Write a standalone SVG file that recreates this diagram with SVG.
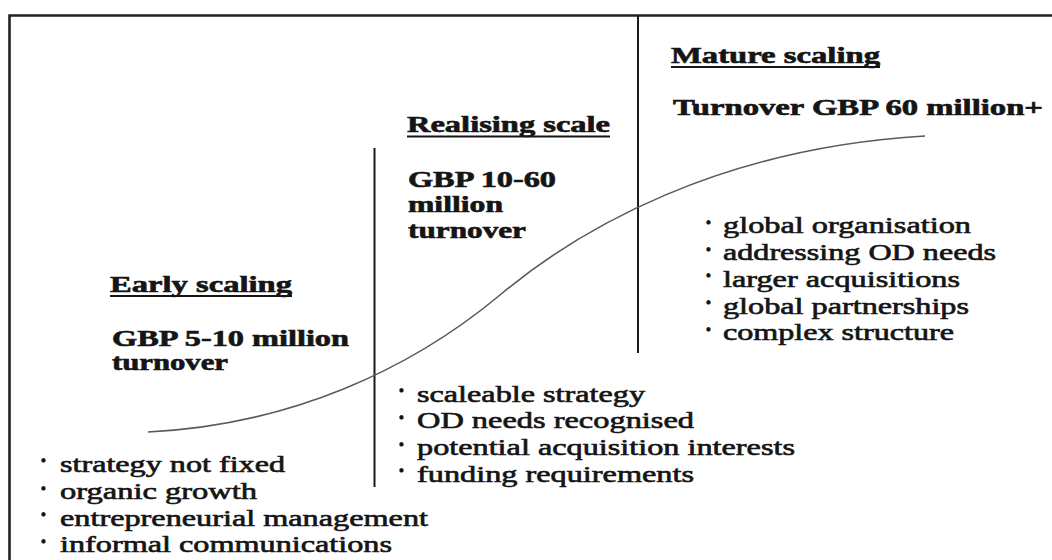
<svg xmlns="http://www.w3.org/2000/svg" width="1052" height="560" viewBox="0 0 1052 560">
  <style>
    .frame { fill: none; stroke: #222; stroke-width: 2.6; }
    .divider { stroke: #1a1a1a; stroke-width: 2; }
    .curve { fill: none; stroke: #5a5a5a; stroke-width: 1.6; }
    .head { font-family: "Liberation Serif", "Times New Roman", serif; font-weight: bold; font-size: 32.5px; fill: #151515; stroke: #151515; stroke-width: 0.9; }
    .item { font-family: "Liberation Serif", "Times New Roman", serif; font-size: 32.5px; fill: #151515; stroke: #151515; stroke-width: 0.9; }
    .bullet { font-family: "Liberation Serif", "Times New Roman", serif; font-size: 18px; fill: #151515; text-anchor: middle; }
    .uline { stroke: #151515; stroke-width: 2.2; }
  </style>

  <rect width="1052" height="560" fill="#ffffff"/>

  <!-- outer frame (open to the right and bottom) -->
  <path class="frame" d="M9.5,560 V15.5 H1052"/>

  <!-- stage dividers -->
  <g id="dividers">
    <line class="divider" x1="374.5" y1="148" x2="374.5" y2="487"/>
    <line class="divider" x1="638" y1="15" x2="638" y2="353"/>
  </g>

  <!-- growth S-curve -->
  <g id="connectors">
    <path class="curve" d="M148,432 C290,425 410,370 500,295 C580,228 720,148 925,136"/>
  </g>

  <!-- text is set in a wide face: glyphs are squeezed vertically to 68% -->

  <!-- early scaling stage -->
  <g id="stage-early">
    <text class="head" transform="translate(110,292) scale(1,0.68)" textLength="182" lengthAdjust="spacingAndGlyphs">Early scaling</text>
    <line class="uline" x1="110" y1="296" x2="292" y2="296"/>
    <text class="head" transform="translate(112,346) scale(1,0.68)" textLength="237" lengthAdjust="spacingAndGlyphs">GBP 5-10 million</text>
    <text class="head" transform="translate(112,370) scale(1,0.68)" textLength="116" lengthAdjust="spacingAndGlyphs">turnover</text>

    <text class="bullet" x="43.5" y="467">•</text>
    <text class="item" transform="translate(60,471.5) scale(1,0.68)" textLength="225" lengthAdjust="spacingAndGlyphs">strategy not fixed</text>
    <text class="bullet" x="43.5" y="494.5">•</text>
    <text class="item" transform="translate(60,499) scale(1,0.68)" textLength="197" lengthAdjust="spacingAndGlyphs">organic growth</text>
    <text class="bullet" x="43.5" y="521">•</text>
    <text class="item" transform="translate(60,525.5) scale(1,0.68)" textLength="368" lengthAdjust="spacingAndGlyphs">entrepreneurial management</text>
    <text class="bullet" x="43.5" y="547.5">•</text>
    <text class="item" transform="translate(60,552) scale(1,0.68)" textLength="332" lengthAdjust="spacingAndGlyphs">informal communications</text>
  </g>

  <!-- realising scale stage -->
  <g id="stage-realising">
    <text class="head" transform="translate(407,132) scale(1,0.68)" textLength="203" lengthAdjust="spacingAndGlyphs">Realising scale</text>
    <line class="uline" x1="407" y1="136.5" x2="610" y2="136.5"/>
    <text class="head" transform="translate(408,186.5) scale(1,0.68)" textLength="148" lengthAdjust="spacingAndGlyphs">GBP 10-60</text>
    <text class="head" transform="translate(408,212) scale(1,0.68)" textLength="95" lengthAdjust="spacingAndGlyphs">million</text>
    <text class="head" transform="translate(408,238) scale(1,0.68)" textLength="118" lengthAdjust="spacingAndGlyphs">turnover</text>

    <text class="bullet" x="401.5" y="397">•</text>
    <text class="item" transform="translate(417,401.5) scale(1,0.68)" textLength="228" lengthAdjust="spacingAndGlyphs">scaleable strategy</text>
    <text class="bullet" x="401.5" y="423.5">•</text>
    <text class="item" transform="translate(417,428) scale(1,0.68)" textLength="277" lengthAdjust="spacingAndGlyphs">OD needs recognised</text>
    <text class="bullet" x="401.5" y="450.5">•</text>
    <text class="item" transform="translate(417,455) scale(1,0.68)" textLength="378" lengthAdjust="spacingAndGlyphs">potential acquisition interests</text>
    <text class="bullet" x="401.5" y="477">•</text>
    <text class="item" transform="translate(417,481.5) scale(1,0.68)" textLength="277" lengthAdjust="spacingAndGlyphs">funding requirements</text>
  </g>

  <!-- mature scaling stage -->
  <g id="stage-mature">
    <text class="head" transform="translate(671,63) scale(1,0.68)" textLength="209" lengthAdjust="spacingAndGlyphs">Mature scaling</text>
    <line class="uline" x1="671" y1="67" x2="880" y2="67"/>
    <text class="head" transform="translate(673,115) scale(1,0.68)" textLength="370" lengthAdjust="spacingAndGlyphs">Turnover GBP 60 million+</text>

    <text class="bullet" x="708.5" y="228.5">•</text>
    <text class="item" transform="translate(723,233) scale(1,0.68)" textLength="248" lengthAdjust="spacingAndGlyphs">global organisation</text>
    <text class="bullet" x="708.5" y="255.5">•</text>
    <text class="item" transform="translate(723,260) scale(1,0.68)" textLength="273" lengthAdjust="spacingAndGlyphs">addressing OD needs</text>
    <text class="bullet" x="708.5" y="282">•</text>
    <text class="item" transform="translate(723,286.5) scale(1,0.68)" textLength="237" lengthAdjust="spacingAndGlyphs">larger acquisitions</text>
    <text class="bullet" x="708.5" y="309">•</text>
    <text class="item" transform="translate(723,313.5) scale(1,0.68)" textLength="246" lengthAdjust="spacingAndGlyphs">global partnerships</text>
    <text class="bullet" x="708.5" y="335.5">•</text>
    <text class="item" transform="translate(723,340) scale(1,0.68)" textLength="231" lengthAdjust="spacingAndGlyphs">complex structure</text>
  </g>
</svg>
